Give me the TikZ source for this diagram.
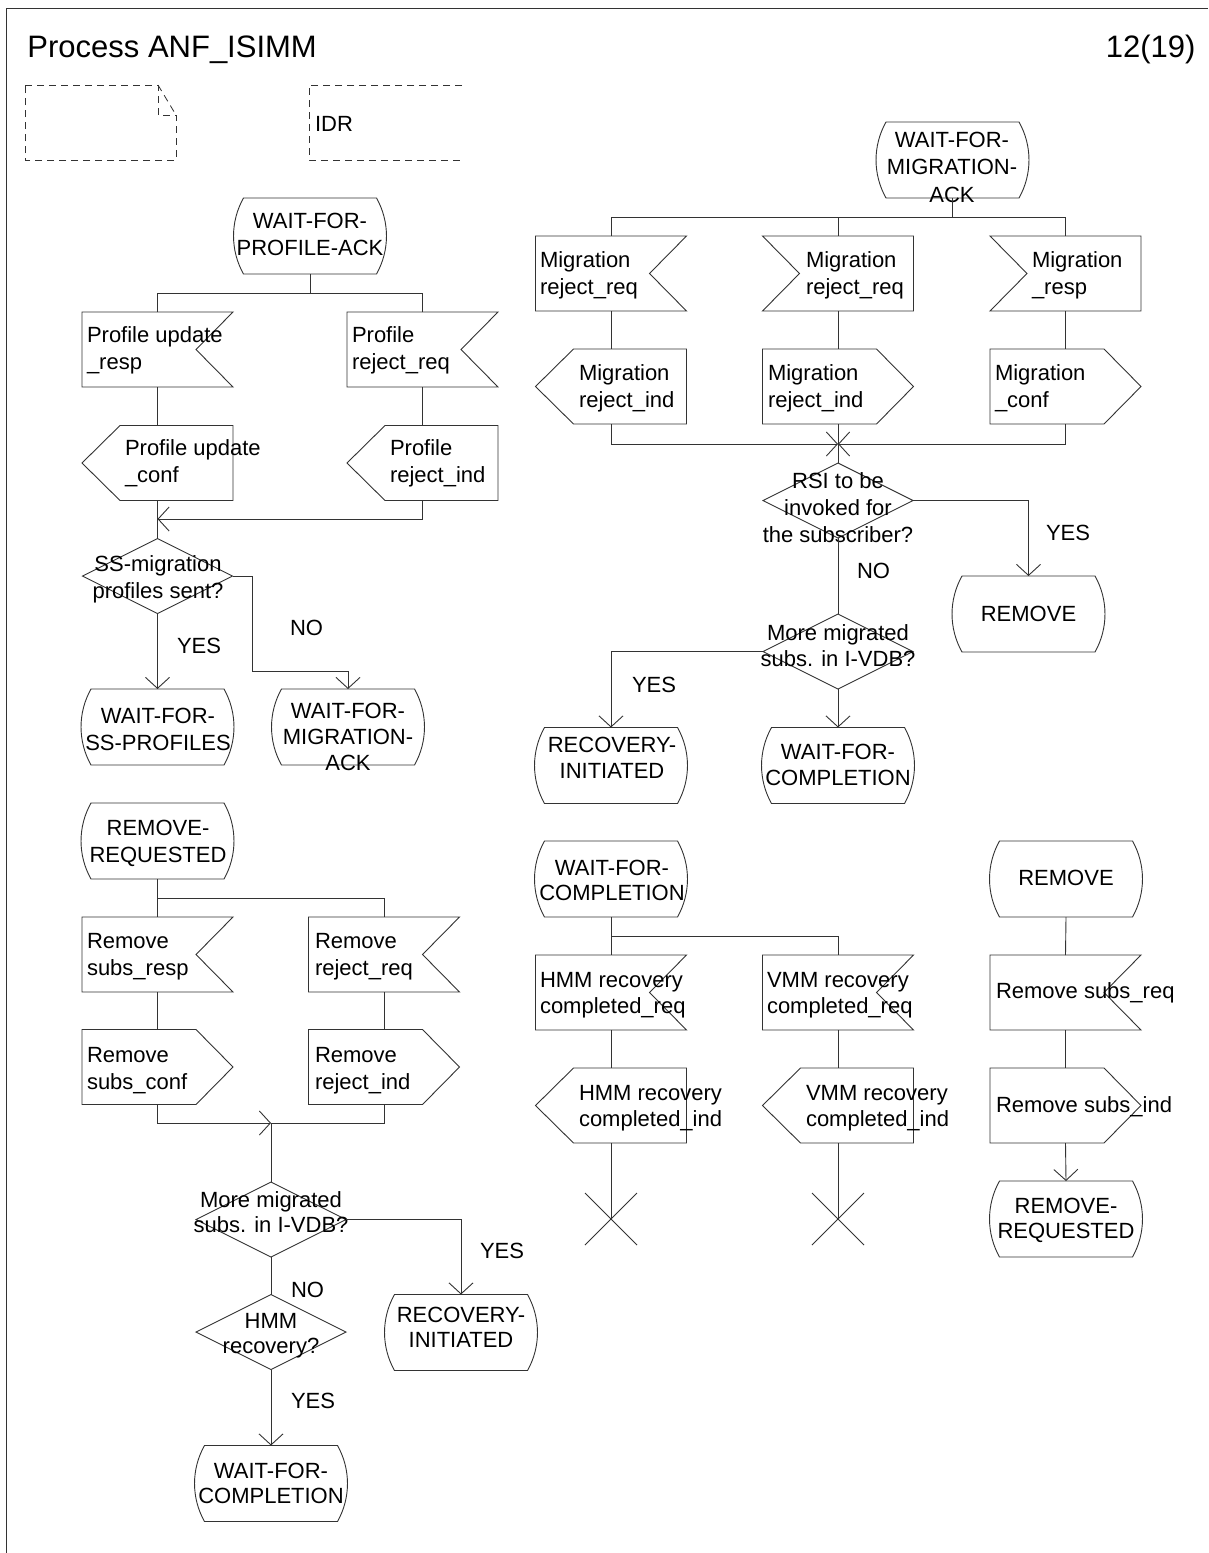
\documentclass[tikz,border=0pt]{standalone}
\usepackage{fontspec}
\setmainfont{Liberation Sans}
\usetikzlibrary{arrows.meta,calc}

\newcommand\mystrut{\rule{0pt}{16pt}}
\newcommand\shInR[1]{\draw (#1.north west) -- (#1.north east) -- ([xshift=-37pt]#1.east) -- (#1.south east) -- (#1.south west) -- cycle;}
\newcommand\shInL[1]{\draw (#1.north west) -- (#1.north east) -- (#1.south east) -- (#1.south west) -- ([xshift=37pt]#1.west) -- cycle;}
\newcommand\shOutL[1]{\draw ([xshift=38pt]#1.north west) -- (#1.north east) -- (#1.south east) -- ([xshift=38pt]#1.south west) -- (#1.west) -- cycle;}
\newcommand\shOutR[1]{\draw (#1.north west) -- ([xshift=-37pt]#1.north east) -- (#1.east) -- ([xshift=-37pt]#1.south east) -- (#1.south west) -- cycle;}
\newcommand\shState[1]{\draw ([xshift=10pt]#1.north west) -- ([xshift=-10pt]#1.north east) .. controls ([xshift=3.3pt,yshift=-23.6pt]#1.north east) and ([xshift=3.3pt,yshift=23.6pt]#1.south east) .. ([xshift=-10pt]#1.south east) -- ([xshift=10pt]#1.south west) .. controls ([xshift=-3.3pt,yshift=23.6pt]#1.south west) and ([xshift=-3.3pt,yshift=-23.6pt]#1.north west) .. ([xshift=10pt]#1.north west) -- cycle;}
\newcommand\shDec[1]{\draw (#1.north) -- (#1.east) -- (#1.south) -- (#1.west) -- cycle;}
\newcommand\shStop[1]{\draw (#1) +(-26,-26) -- +(26,26) (#1) +(-26,26) -- +(26,-26);}

\begin{document}
\begin{tikzpicture}[x=1pt,y=-1pt,line width=0.9pt,color=black!80,
  sym/.style={inner sep=0pt,outer sep=0pt,minimum width=151pt,minimum height=75pt},
  st/.style={inner sep=0pt,outer sep=0pt,minimum width=153pt,minimum height=76pt},
  dc/.style={inner sep=0pt,outer sep=0pt,minimum width=150pt,minimum height=75pt},
  tx/.style={inner sep=0pt,outer sep=0pt,text=black,font=\fontsize{22pt}{27pt}\selectfont,align=left,anchor=north west},
  txc/.style={tx,align=center,anchor=north},
  lab/.style={inner sep=0pt,outer sep=0pt,text=black,font=\fontsize{22pt}{27pt}\selectfont,anchor=base west},
  arr/.style={-{Straight Barb[length=11pt,width=24pt]}},
  dsh/.style={dash pattern=on 7pt off 5pt,line width=0.8pt}
]
\useasboundingbox (0,0) rectangle (1208,1553);
\fill[white] (0,0) rectangle (1208,1553);
% frame
\draw[line width=1pt] (6,1553) -- (6,8) -- (1208,8);
\node[inner sep=0pt,text=black,font=\fontsize{31pt}{36pt}\selectfont,anchor=base west] (title) at (27,57) {Process ANF\_ISIMM};
\node[inner sep=0pt,text=black,font=\fontsize{31pt}{36pt}\selectfont,anchor=base east] (page) at (1196,57) {12(19)};

% comment symbol and IDR
\node[sym] (cm) at (100.5,122.5) {};
\draw[dsh] (cm.north west) -- ([xshift=-18pt]cm.north east) -- ([xshift=-18pt,yshift=-30pt]cm.north east) -- ([yshift=-30pt]cm.north east) -- (cm.south east) -- (cm.south west) -- cycle;
\draw[dsh] ([xshift=-18pt]cm.north east) -- ([yshift=-30pt]cm.north east);
\node[inner sep=0pt,outer sep=0pt,minimum width=153pt,minimum height=75pt] (idr) at (385.5,122.5) {};
\draw[dsh] (idr.north east) -- (idr.north west) -- (idr.south west) -- (idr.south east);
\node[lab] (idrt) at (315,131) {IDR};

% ---------- left cluster 1
\node[st] (s1) at (310,236) {}; \shState{s1}
\node[txc] (s1t) at (310,212) {\mystrut WAIT-FOR-\\PROFILE-ACK};
\node[sym] (i1) at (157.5,349.5) {}; \shInR{i1}
\node[tx] (i1t) at (87,326) {\mystrut Profile update\\\_resp};
\node[sym] (i2) at (422.5,349.5) {}; \shInR{i2}
\node[tx] (i2t) at (352,326) {\mystrut Profile\\reject\_req};
\node[sym] (o1) at (157.5,463) {}; \shOutL{o1}
\node[tx] (o1t) at (125,439) {\mystrut Profile update\\\_conf};
\node[sym] (o2) at (422.5,463) {}; \shOutL{o2}
\node[tx] (o2t) at (390,439) {\mystrut Profile\\reject\_ind};
\node[dc] (d1) at (157.5,576) {}; \shDec{d1}
\node[txc] (d1t) at (158,555) {\mystrut SS-migration\\profiles sent?};
\node[st] (s2) at (157.5,727) {}; \shState{s2}
\node[txc] (s2t) at (158,707) {\mystrut WAIT-FOR-\\SS-PROFILES};
\node[st] (s3) at (348,727) {}; \shState{s3}
\node[txc,font=\fontsize{22pt}{26pt}\selectfont] (s3t) at (348,702) {\mystrut WAIT-FOR-\\MIGRATION-\\ACK};

\coordinate (b2) at (310,293);
\draw (s1.south) -- (b2);
\draw (i1.north) |- (b2);
\draw (i2.north) |- (b2);
\draw (i1.south) -- (o1.north);
\draw (i2.south) -- (o2.north);
\coordinate (j1) at (157.5,519);
\draw (o1.south) -- (d1.north);
\draw[arr] (o2.south) |- (j1);
\draw[arr] (d1.south) -- (s2.north);
\coordinate (k1) at (252,671);
\draw[arr] (d1.east) -| (k1) -| (s3.north);
\node[lab] (l1) at (177,653) {YES};
\node[lab] (l2) at (290,635) {NO};

% ---------- right cluster 1
\node[st] (s4) at (952.5,160) {}; \shState{s4}
\node[txc,font=\fontsize{22pt}{27.5pt}\selectfont] (s4t) at (952,131) {\mystrut WAIT-FOR-\\MIGRATION-\\ACK};
\node[sym] (i3) at (611,273.5) {}; \shInR{i3}
\node[tx] (i3t) at (540,251) {\mystrut Migration\\reject\_req};
\node[sym] (i4) at (838,273.5) {}; \shInL{i4}
\node[tx] (i4t) at (806,251) {\mystrut Migration\\reject\_req};
\node[sym] (i5) at (1065.5,273.5) {}; \shInL{i5}
\node[tx] (i5t) at (1032,251) {\mystrut Migration\\\_resp};
\node[sym] (o3) at (611,386.5) {}; \shOutL{o3}
\node[tx] (o3t) at (579,364) {\mystrut Migration\\reject\_ind};
\node[sym] (o4) at (838,386.5) {}; \shOutR{o4}
\node[tx] (o4t) at (768,364) {\mystrut Migration\\reject\_ind};
\node[sym] (o5) at (1065.5,386.5) {}; \shOutR{o5}
\node[tx] (o5t) at (995,364) {\mystrut Migration\\\_conf};
\node[dc] (d2) at (838,500.5) {}; \shDec{d2}
\node[txc] (d2t) at (838,472) {\mystrut RSI to be\\invoked for\\the subscriber?};
\node[st] (s5) at (1028.5,614) {}; \shState{s5}
\node[txc] (s5t) at (1028.5,605) {\mystrut REMOVE};
\node[dc] (d3) at (838,651.5) {}; \shDec{d3}
\node[txc,font=\fontsize{22pt}{26pt}\selectfont] (d3t) at (838,624) {\mystrut More migrated\\subs. in I-VDB?};
\node[st] (s6) at (611,765.5) {}; \shState{s6}
\node[txc,font=\fontsize{22pt}{26pt}\selectfont] (s6t) at (612,736) {\mystrut RECOVERY-\\INITIATED};
\node[st] (s7) at (838,765.5) {}; \shState{s7}
\node[txc,font=\fontsize{22pt}{26pt}\selectfont] (s7t) at (838,743) {\mystrut WAIT-FOR-\\COMPLETION};

\coordinate (b1) at (952.5,217);
\draw (s4.south) -- (b1);
\draw (i3.north) |- (b1);
\draw (i5.north) |- (b1);
\draw (i4.north) -- (i4.north |- b1);
\draw (i3.south) -- (o3.north);
\draw (i4.south) -- (o4.north);
\draw (i5.south) -- (o5.north);
\coordinate (j2) at (838,444);
\draw[arr] (o3.south) |- (j2);
\draw[arr] (o5.south) |- (j2);
\draw (o4.south) -- (d2.north);
\draw[arr] (d2.east) -| (s5.north);
\draw (d2.south) -- (d3.north);
\draw[arr] (d3.west) -| (s6.north);
\draw[arr] (d3.south) -- (s7.north);
\node[lab] (l3) at (1046,540) {YES};
\node[lab] (l4) at (857,578) {NO};
\node[lab] (l5) at (632,692) {YES};

% ---------- left cluster 2
\node[st] (s8) at (157.5,841) {}; \shState{s8}
\node[txc] (s8t) at (158,819) {\mystrut REMOVE-\\REQUESTED};
\node[sym] (i6) at (157.5,954.5) {}; \shInR{i6}
\node[tx] (i6t) at (87,932) {\mystrut Remove\\subs\_resp};
\node[sym] (i7) at (384,954.5) {}; \shInR{i7}
\node[tx] (i7t) at (315,932) {\mystrut Remove\\reject\_req};
\node[sym] (o6) at (157.5,1067) {}; \shOutR{o6}
\node[tx] (o6t) at (87,1046) {\mystrut Remove\\subs\_conf};
\node[sym] (o7) at (384,1067) {}; \shOutR{o7}
\node[tx] (o7t) at (315,1046) {\mystrut Remove\\reject\_ind};
\node[dc] (d4) at (271,1219.5) {}; \shDec{d4}
\node[txc,font=\fontsize{22pt}{25pt}\selectfont] (d4t) at (271,1191) {\mystrut More migrated\\subs. in I-VDB?};
\node[st] (s9) at (461,1332.5) {}; \shState{s9}
\node[txc,font=\fontsize{22pt}{25pt}\selectfont] (s9t) at (461,1306) {\mystrut RECOVERY-\\INITIATED};
\node[dc] (d5) at (271,1332) {}; \shDec{d5}
\node[txc,font=\fontsize{22pt}{25pt}\selectfont] (d5t) at (271,1312) {\mystrut HMM\\recovery?};
\node[st] (s10) at (271,1483.5) {}; \shState{s10}
\node[txc,font=\fontsize{22pt}{25pt}\selectfont] (s10t) at (271,1462) {\mystrut WAIT-FOR-\\COMPLETION};

\coordinate (b3) at (157.5,898);
\draw (s8.south) -- (b3);
\draw (b3) -- (i6.north);
\draw (i7.north) |- (b3);
\draw (i6.south) -- (o6.north);
\draw (i7.south) -- (o7.north);
\coordinate (j3) at (271,1123);
\draw[arr] (o6.south) |- (j3);
\draw (o7.south) |- (j3);
\draw (j3) -- (d4.north);
\draw[arr] (d4.east) -| (s9.north);
\draw (d4.south) -- (d5.north);
\draw[arr] (d5.south) -- (s10.north);
\node[lab] (l6) at (480,1258) {YES};
\node[lab] (l7) at (291,1297) {NO};
\node[lab] (l8) at (291,1408) {YES};

% ---------- right cluster 2
\node[st] (s11) at (611,879) {}; \shState{s11}
\node[txc,font=\fontsize{22pt}{25pt}\selectfont] (s11t) at (612,859) {\mystrut WAIT-FOR-\\COMPLETION};
\node[sym] (i8) at (611,992.5) {}; \shInR{i8}
\node[tx,font=\fontsize{22pt}{26pt}\selectfont] (i8t) at (540,971) {\mystrut HMM recovery\\completed\_req};
\node[sym] (i9) at (838,992.5) {}; \shInR{i9}
\node[tx,font=\fontsize{22pt}{26pt}\selectfont] (i9t) at (767,971) {\mystrut VMM recovery\\completed\_req};
\node[sym] (o8) at (611,1105.5) {}; \shOutL{o8}
\node[tx,font=\fontsize{22pt}{26pt}\selectfont] (o8t) at (579,1084) {\mystrut HMM recovery\\completed\_ind};
\node[sym] (o9) at (838,1105.5) {}; \shOutL{o9}
\node[tx,font=\fontsize{22pt}{26pt}\selectfont] (o9t) at (806,1084) {\mystrut VMM recovery\\completed\_ind};
\coordinate (x1) at (611,1219);
\coordinate (x2) at (838,1219);

\coordinate (b4) at (611,936);
\draw (s11.south) -- (b4);
\draw (b4) -- (i8.north);
\draw (i9.north) |- (b4);
\draw (i8.south) -- (o8.north);
\draw (i9.south) -- (o9.north);
\draw (o8.south) -- (x1);
\draw (o9.south) -- (x2);
\shStop{x1}
\shStop{x2}

\node[st] (s12) at (1066,879) {}; \shState{s12}
\node[txc] (s12t) at (1066,869) {\mystrut REMOVE};
\node[sym] (i10) at (1065.5,992.5) {}; \shInR{i10}
\node[tx] (i10t) at (996,982) {\mystrut Remove subs\_req};
\node[sym] (o10) at (1065.5,1105.5) {}; \shOutR{o10}
\node[tx] (o10t) at (996,1096) {\mystrut Remove subs\_ind};
\node[st] (s13) at (1066,1219) {}; \shState{s13}
\node[txc,font=\fontsize{22pt}{25pt}\selectfont] (s13t) at (1066,1197) {\mystrut REMOVE-\\REQUESTED};
\draw (s12.south) -- (i10.north);
\draw (i10.south) -- (o10.north);
\draw[arr] (o10.south) -- (s13.north);
\end{tikzpicture}
\end{document}
